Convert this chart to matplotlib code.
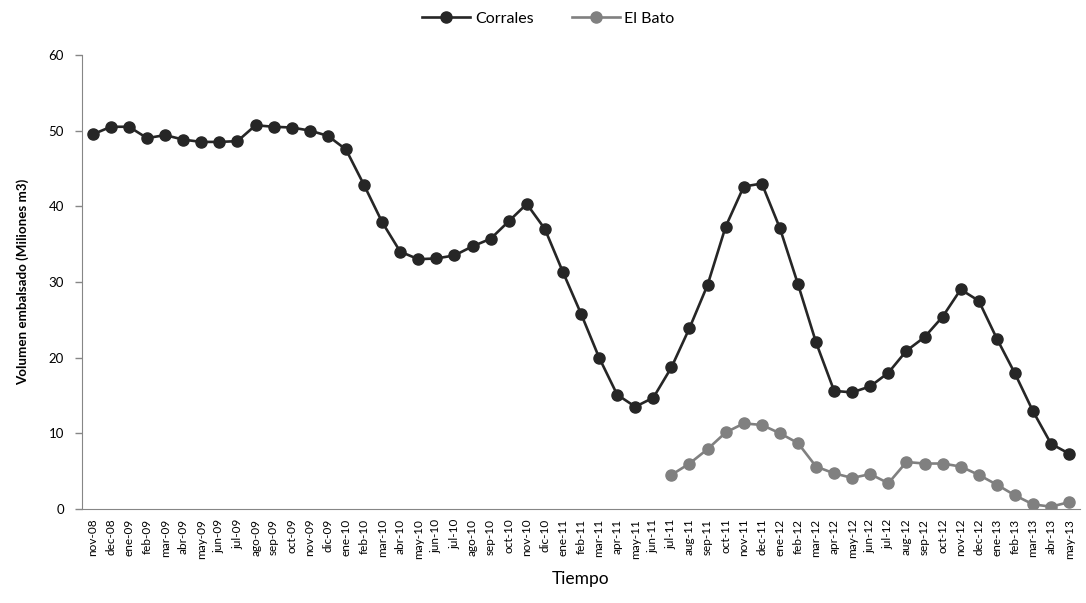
import matplotlib
matplotlib.use('Agg')
import matplotlib.pyplot as plt

plt.rcParams['font.family'] = ['Lato', 'DejaVu Sans']

# Months (x axis labels)
meses = ['nov-08', 'dec-08', 'ene-09', 'feb-09', 'mar-09', 'abr-09', 'may-09',
         'jun-09', 'jul-09', 'ago-09', 'sep-09', 'oct-09', 'nov-09', 'dic-09',
         'ene-10', 'feb-10', 'mar-10', 'abr-10', 'may-10', 'jun-10', 'jul-10',
         'ago-10', 'sep-10', 'oct-10', 'nov-10', 'dic-10', 'ene-11', 'feb-11',
         'mar-11', 'apr-11', 'may-11', 'jun-11', 'jul-11', 'aug-11', 'sep-11',
         'oct-11', 'nov-11', 'dec-11', 'ene-12', 'feb-12', 'mar-12', 'apr-12',
         'may-12', 'jun-12', 'jul-12', 'aug-12', 'sep-12', 'oct-12', 'nov-12',
         'dec-12', 'ene-13', 'feb-13', 'mar-13', 'abr-13', 'may-13']

# Corrales reservoir volume (million m3)
corrales = [49.5, 50.5, 50.5, 49.0, 49.4, 48.8, 48.5, 48.5, 48.6, 50.7,
            50.5, 50.4, 50.0, 49.3, 47.5, 42.8, 37.9, 34.0, 33.0, 33.1,
            33.5, 34.7, 35.7, 38.0, 40.3, 37.0, 31.3, 25.8, 20.0, 15.1,
            13.5, 14.7, 18.7, 23.9, 29.6, 37.3, 42.6, 43.0, 37.1, 29.7,
            22.0, 15.6, 15.4, 16.2, 18.0, 20.9, 22.7, 25.4, 29.0, 27.5,
            22.5, 17.9, 12.9, 8.6, 7.3]

# El Bato starts at jul-11
bato_inicio = 'jul-11'
bato = [4.5, 6.0, 7.9, 10.1, 11.3, 11.1, 10.0, 8.7, 5.6, 4.7, 4.1, 4.6,
        3.4, 6.2, 6.0, 6.0, 5.6, 4.5, 3.2, 1.8, 0.6, 0.3, 0.9]

x = list(range(len(meses)))
i0 = meses.index(bato_inicio)
x_bato = x[i0:i0 + len(bato)]

fig = plt.figure(figsize=(10.86, 6.03), dpi=100)
ax = fig.add_axes([0.0755, 0.156, 0.919, 0.753])

ax.plot(x, corrales, '-o', color='#262626', linewidth=1.9, markersize=8,
        label='Corrales')
ax.plot(x_bato, bato, '-o', color='#808080', linewidth=1.9, markersize=8,
        label='El Bato')

# Axes limits and ticks
ax.set_xlim(-0.6, len(meses) - 0.4)
ax.set_ylim(0, 60)
ax.set_yticks(range(0, 61, 10))
ax.set_xticks(x)
ax.set_xticklabels(meses, rotation=90, fontsize=8.5)
ax.tick_params(axis='x', length=0, pad=7)
ax.tick_params(axis='y', length=5, width=1, color='#868686', labelsize=9.5,
               pad=8)

# Box off
ax.spines['top'].set_visible(False)
ax.spines['right'].set_visible(False)
ax.spines['left'].set_color('#868686')
ax.spines['bottom'].set_color('#868686')

# Labels
ax.set_xlabel('Tiempo', fontsize=12.5, labelpad=9)
ax.set_ylabel('Volumen embalsado (Miliones m3)', fontsize=9.6,
              fontweight='bold', labelpad=14)

lgd = fig.legend(loc='upper center', bbox_to_anchor=(0.505, 1.005), ncol=2,
                 fontsize=11.5, frameon=False, handlelength=3.0,
                 columnspacing=2.4, handletextpad=0.3)

fig.savefig('out.png', dpi=100)
